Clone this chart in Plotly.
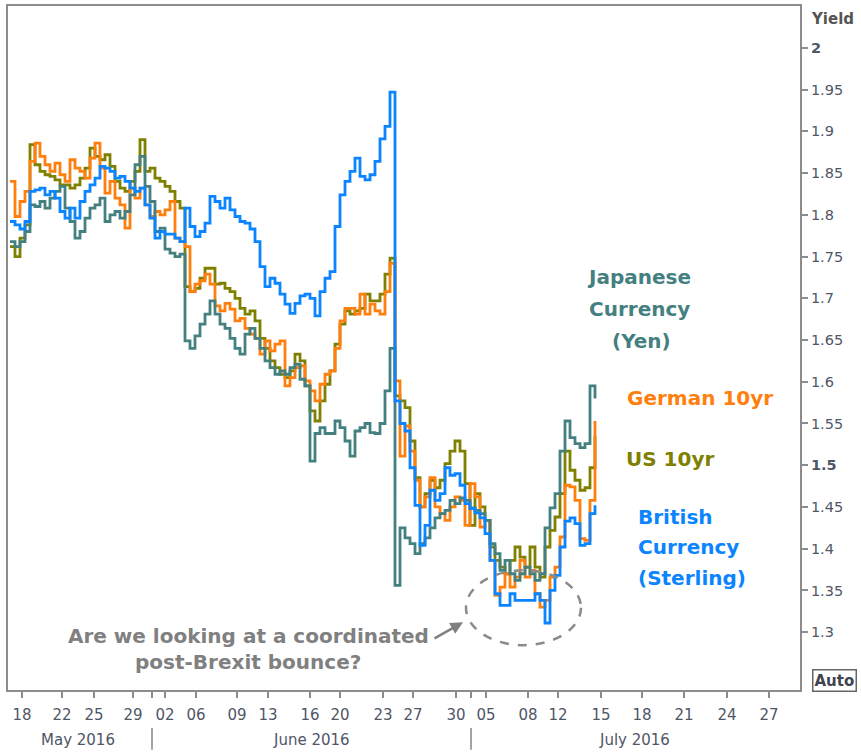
import plotly.graph_objects as go

# ---------------- data (yield, %), one value per bar ----------------
german_10yr = [1.840,1.798,1.816,1.828,1.864,1.886,1.870,1.860,1.852,1.862,1.848,1.840,1.866,1.856,1.852,1.844,1.868,1.886,1.856,1.826,
1.840,1.820,1.812,1.784,1.832,1.820,1.832,1.812,1.798,1.804,1.800,1.806,1.816,1.772,1.768,1.762,1.708,1.717,1.721,1.729,
1.717,1.691,1.685,1.694,1.687,1.673,1.676,1.664,1.657,1.652,1.633,1.649,1.637,1.645,1.649,1.595,1.605,1.617,1.619,1.601,
1.589,1.577,1.597,1.609,1.613,1.640,1.673,1.688,1.688,1.681,1.705,1.681,1.693,1.685,1.681,1.708,1.742,1.601,1.511,1.547,
1.517,1.482,1.450,1.462,1.485,1.450,1.442,1.434,1.450,1.462,1.458,1.428,1.478,1.462,1.426,1.434,1.386,1.344,1.354,1.370,
1.354,1.366,1.386,1.366,1.374,1.346,1.330,1.338,1.366,1.378,1.414,1.476,1.474,1.458,1.412,1.410,1.458,1.553]

us_10yr = [1.762,1.750,1.772,1.788,1.884,1.860,1.852,1.848,1.846,1.842,1.836,1.836,1.832,1.836,1.844,1.856,1.880,1.870,1.866,1.872,
1.858,1.840,1.832,1.828,1.840,1.852,1.890,1.852,1.856,1.844,1.840,1.834,1.828,1.816,1.808,1.714,1.708,1.712,1.724,1.736,
1.736,1.717,1.718,1.712,1.708,1.700,1.688,1.681,1.685,1.673,1.652,1.640,1.625,1.617,1.609,1.605,1.613,1.633,1.625,1.595,
1.565,1.553,1.577,1.597,1.613,1.645,1.669,1.685,1.681,1.685,1.688,1.705,1.697,1.697,1.705,1.729,1.748,1.583,1.577,1.569,
1.529,1.485,1.450,1.466,1.482,1.473,1.482,1.502,1.517,1.529,1.517,1.478,1.428,1.466,1.450,1.434,1.402,1.386,1.378,1.370,
1.386,1.402,1.390,1.378,1.402,1.378,1.366,1.402,1.422,1.438,1.466,1.517,1.494,1.482,1.470,1.473,1.497,1.535]

japanese_yen = [1.768,1.762,1.768,1.780,1.812,1.810,1.816,1.808,1.820,1.828,1.834,1.808,1.792,1.772,1.780,1.796,1.808,1.812,1.820,1.792,
1.800,1.804,1.796,1.804,1.824,1.860,1.870,1.834,1.816,1.780,1.784,1.759,1.754,1.750,1.753,1.649,1.640,1.655,1.669,1.681,
1.697,1.681,1.669,1.664,1.652,1.640,1.633,1.657,1.664,1.652,1.640,1.625,1.617,1.609,1.613,1.609,1.617,1.621,1.603,1.595,
1.505,1.538,1.545,1.538,1.538,1.553,1.545,1.529,1.511,1.541,1.545,1.550,1.539,1.538,1.550,1.589,1.640,1.356,1.425,1.413,
1.406,1.394,1.406,1.413,1.425,1.437,1.442,1.446,1.458,1.454,1.461,1.458,1.449,1.446,1.442,1.434,1.406,1.394,1.374,1.386,
1.370,1.362,1.370,1.378,1.370,1.362,1.370,1.425,1.449,1.466,1.517,1.553,1.533,1.526,1.521,1.526,1.595,1.580]

british_sterling = [1.792,1.788,1.783,1.792,1.828,1.830,1.832,1.824,1.828,1.820,1.804,1.796,1.808,1.796,1.816,1.828,1.836,1.844,1.858,1.856,
1.852,1.844,1.846,1.840,1.832,1.828,1.832,1.812,1.796,1.772,1.780,1.777,1.777,1.772,1.768,1.808,1.786,1.774,1.780,1.790,
1.822,1.816,1.808,1.820,1.806,1.798,1.792,1.790,1.783,1.768,1.738,1.714,1.724,1.718,1.705,1.693,1.682,1.694,1.703,1.705,
1.700,1.679,1.708,1.724,1.732,1.786,1.824,1.840,1.852,1.868,1.846,1.842,1.848,1.864,1.891,1.906,1.947,1.577,1.550,1.541,
1.497,1.452,1.404,1.428,1.470,1.458,1.466,1.497,1.488,1.490,1.476,1.454,1.448,1.443,1.437,1.418,1.386,1.346,1.332,1.332,
1.346,1.338,1.338,1.338,1.338,1.346,1.338,1.311,1.350,1.368,1.402,1.433,1.437,1.430,1.404,1.406,1.442,1.452]

bars = list(range(len(german_10yr)))

# x-axis ticks (in bar units) and their day labels
tick_bars = [2.4, 10.4, 16.8, 24.6, 28.4, 31, 37.2, 45.4, 51.6, 60, 66, 74.6, 80.6,
             89.2, 92.2, 95.2, 103.6, 109.6, 118.2, 126.4, 134.8, 143.4, 151.8]
tick_labels = ['18', '22', '25', '29', '', '02', '06', '09', '13', '16', '20', '23', '27',
               '30', '', '05', '08', '12', '15', '18', '21', '24', '27']
month_labels = ['May 2016', 'June 2016', 'July 2016']

y_ticks = [1.3, 1.35, 1.4, 1.45, 1.5, 1.55, 1.6, 1.65, 1.7, 1.75, 1.8, 1.85, 1.9, 1.95, 2.0]
y_tick_text = ['<b>%g</b>' % v if v in (1.5, 2.0) else '%g' % v for v in y_ticks]

X_RANGE = [-0.4, 158]
Y_RANGE = [1.2307, 2.0502]

# ---------------- styling ----------------
C_ORANGE = '#ff7f0e'
C_OLIVE = '#808000'
C_TEAL = '#448080'
C_BLUE = '#0a84ff'
C_TEXT = '#4f5666'
C_FRAME = '#8c8c8c'
FONT = 'DejaVu Sans'

W, H = 861, 756
L, R, T, B = 8, 800, 4, 690


def px(x):
    return (x - L) / (R - L)


def py(y):
    return (B - y) / (B - T)


fig = go.Figure()
for name, vals, col in [('US 10yr', us_10yr, C_OLIVE),
                        ('German 10yr', german_10yr, C_ORANGE),
                        ('Japanese Currency (Yen)', japanese_yen, C_TEAL),
                        ('British Currency (Sterling)', british_sterling, C_BLUE)]:
    fig.add_trace(go.Scatter(x=bars, y=vals, mode='lines', name=name,
                             line=dict(color=col, width=2.8, shape='hv')))

# last-value marker on the axis
fig.add_trace(go.Scatter(x=[X_RANGE[1] + 1.2], y=[us_10yr[-1]], mode='markers',
                         marker=dict(symbol='diamond', size=10, color=C_OLIVE),
                         cliponaxis=False, showlegend=False))

fig.update_layout(
    width=W, height=H,
    margin=dict(l=L, r=W - R, t=T, b=H - B, pad=0),
    paper_bgcolor='white', plot_bgcolor='white',
    showlegend=False,
    font=dict(family=FONT, color=C_TEXT, size=14),
)
fig.update_xaxes(range=X_RANGE, tickmode='array', tickvals=tick_bars, ticktext=tick_labels,
                 showgrid=False, zeroline=False, showline=True, linecolor=C_FRAME, linewidth=2,
                 mirror=True, ticks='outside', ticklen=6, tickwidth=1.5, tickcolor=C_FRAME,
                 ticklabelstandoff=4, tickfont=dict(size=15, color=C_TEXT, family=FONT))
fig.update_yaxes(range=Y_RANGE, side='right', tickmode='array', tickvals=y_ticks, ticktext=y_tick_text,
                 showgrid=False, zeroline=False, showline=True, linecolor=C_FRAME, linewidth=2,
                 mirror=True, ticks='outside', ticklen=6, tickwidth=1.5, tickcolor=C_FRAME,
                 tickfont=dict(size=14.5, color=C_TEXT, family=FONT))

ann = []


def text(t, x, y, color, size=20, xanchor='center', bold=True):
    ann.append(dict(text=('<b>%s</b>' % t) if bold else t, x=px(x), y=py(y), xref='paper', yref='paper',
                    showarrow=False, xanchor=xanchor, yanchor='middle',
                    font=dict(family=FONT, size=size, color=color)))


# series labels
text('Japanese', 639, 276, C_TEAL)
text('Currency', 639, 308, C_TEAL)
text('(Yen)', 641, 340, C_TEAL)
text('German 10yr', 625, 397, C_ORANGE, xanchor='left')
text('US 10yr', 624, 458, C_OLIVE, xanchor='left')
text('British', 636, 516, C_BLUE, xanchor='left')
text('Currency', 636, 547, C_BLUE, xanchor='left')
text('(Sterling)', 636, 578, C_BLUE, xanchor='left')

# commentary
text('Are we looking at a coordinated', 248, 636, '#808080')
text('post-Brexit bounce?', 248, 662, '#808080')
ann.append(dict(x=px(463), y=py(622), xref='paper', yref='paper', ax=-30, ay=17,
                showarrow=True, arrowhead=2, arrowsize=1, arrowwidth=2.5, arrowcolor='#808080', text=''))

# axis decorations
text('Yield', 809, 17, '#555555', size=15, xanchor='left')
ann.append(dict(text='<b>Auto</b>', x=px(812), y=py(680), xref='paper', yref='paper', showarrow=False,
                xanchor='left', yanchor='middle', bordercolor='#666666', borderwidth=1.5, borderpad=1,
                font=dict(family=FONT, size=15, color='#3f4450')))

# month labels
for lab, cx in zip(month_labels, [78, 311, 634]):
    text(lab, cx, 740, C_TEXT, size=15, bold=False)

fig.update_layout(annotations=ann)

shapes = [dict(type='circle', xref='paper', yref='paper', x0=px(466), x1=px(581), y0=py(645), y1=py(570),
               line=dict(color='#8a8a8a', width=2.5, dash='dash'))]
for sx in [152, 471]:
    shapes.append(dict(type='line', xref='paper', yref='paper', x0=px(sx), x1=px(sx), y0=py(728), y1=py(750),
                       line=dict(color='#666666', width=1.2)))
fig.update_layout(shapes=shapes)

fig.write_html('out.html', config={'displayModeBar': False},
               post_script="document.body.style.margin='0';document.body.style.padding='0';")
